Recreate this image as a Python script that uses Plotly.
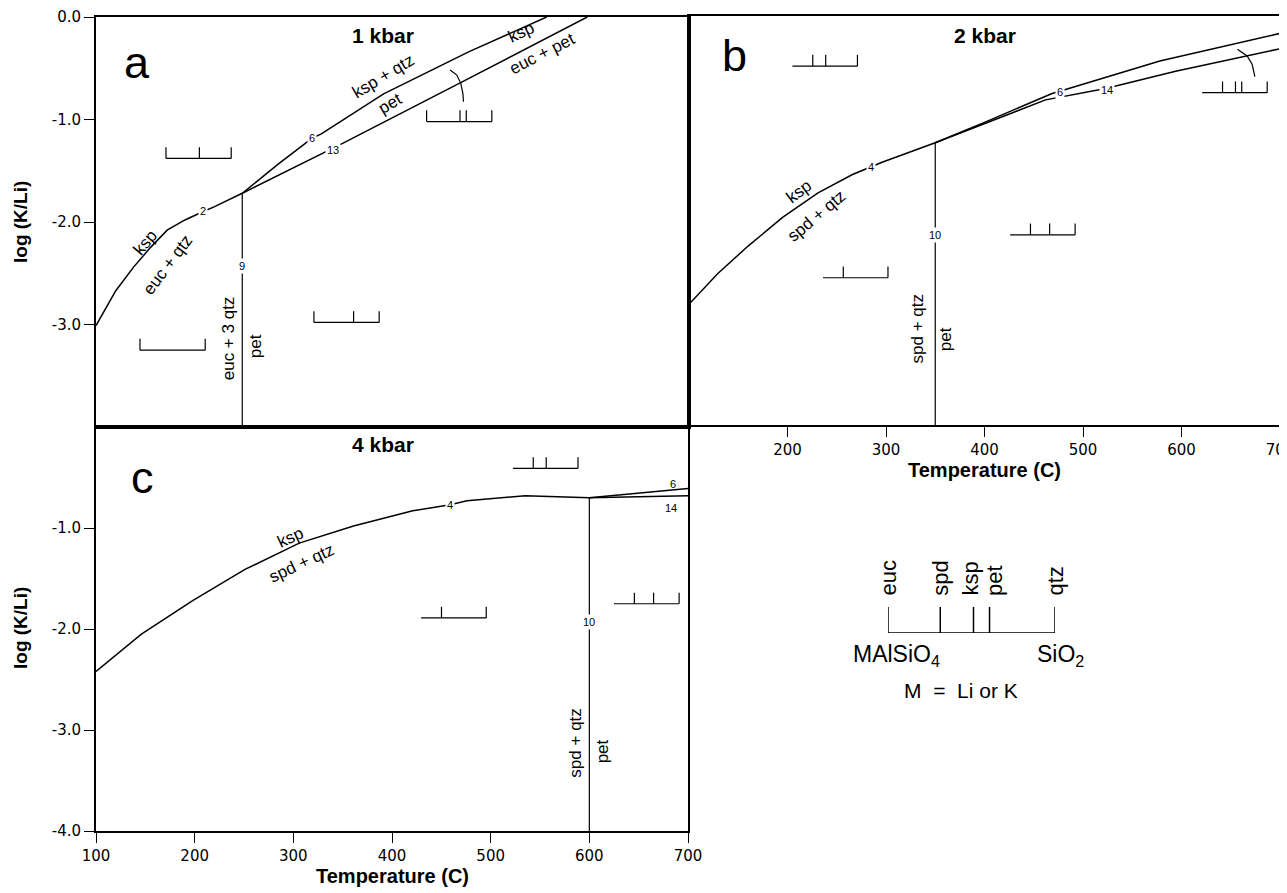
import plotly.graph_objects as go

# ---------------- data ----------------
# Panel a : 1 kbar
a_r2_T = [100, 120, 138, 155, 172, 190, 208, 220, 248]
a_r2_y = [-3.01, -2.67, -2.44, -2.25, -2.08, -1.98, -1.90, -1.85, -1.72]
a_r6_T = [248, 285, 319, 328, 391, 477, 556]
a_r6_y = [-1.72, -1.43, -1.18, -1.14, -0.75, -0.34, 0.0]
a_r13_T = [248, 300, 350, 468, 597]
a_r13_y = [-1.72, -1.47, -1.23, -0.645, 0.0]
a_r9_T = [248, 248]
a_r9_y = [-1.72, -4.0]
a_arc_T = [458.3, 465.1, 469.1, 471.2, 471.8]
a_arc_y = [-0.517, -0.566, -0.647, -0.745, -0.826]

# Panel b : 2 kbar
b_r4_T = [100, 129, 160, 195, 231, 266, 296, 350]
b_r4_y = [-2.82, -2.52, -2.25, -1.97, -1.73, -1.55, -1.43, -1.24]
b_r6_T = [350, 400, 468, 578, 700]
b_r6_y = [-1.24, -1.04, -0.76, -0.44, -0.17]
b_r14_T = [350, 400, 462, 523, 594, 700]
b_r14_y = [-1.24, -1.055, -0.82, -0.71, -0.54, -0.32]
b_r10_T = [350, 350]
b_r10_y = [-1.24, -4.0]
b_arc_T = [656.8, 666.6, 671.7, 674.0, 674.5]
b_arc_y = [-0.326, -0.391, -0.472, -0.554, -0.593]

# Panel c : 4 kbar
c_r4_T = [100, 146, 198, 251, 306, 361, 421, 459, 476, 535, 600]
c_r4_y = [-2.42, -2.05, -1.72, -1.41, -1.15, -0.98, -0.83, -0.77, -0.73, -0.68, -0.70]
c_r6_T = [600, 700]
c_r6_y = [-0.70, -0.61]
c_r14_T = [600, 700]
c_r14_y = [-0.70, -0.68]
c_r10_T = [600, 600]
c_r10_y = [-0.70, -4.0]

# composition bar: phase positions along MAlSiO4 - SiO2
phases = ["euc", "spd", "ksp", "pet", "qtz"]
phase_pos = [0.0, 0.313, 0.512, 0.608, 1.0]
phase_label_shift = [0, 0, -4, 5, 0]   # px, keeps the close labels apart

# assemblage bars: panel, left T, log(K/Li), phases present
bar_panel = ["a", "a", "a", "a", "b", "b", "b", "b", "c", "c", "c"]
bar_T = [170.8, 144.5, 320.5, 434.5, 205, 236, 426, 621, 522.5, 429.5, 625]
bar_y = [-1.38, -3.25, -2.98, -1.02, -0.49, -2.56, -2.14, -0.75, -0.41, -1.89, -1.75]
bar_ph = [["euc", "ksp", "qtz"], ["euc", "qtz"], ["euc", "pet", "qtz"],
          ["euc", "ksp", "pet", "qtz"],
          ["spd", "ksp", "qtz"], ["spd", "qtz"], ["spd", "pet", "qtz"],
          ["spd", "ksp", "pet", "qtz"],
          ["spd", "ksp", "qtz"], ["spd", "qtz"], ["spd", "pet", "qtz"]]
BAR_W = 66.0    # deg C
BAR_H = 0.11    # log units

# field labels: panel, text, T, y, angle
lab_panel = ["a", "a", "a", "a", "a", "a", "a", "a",
             "b", "b", "b", "b",
             "c", "c", "c", "c"]
lab_text = ["ksp", "euc + qtz", "euc + 3 qtz", "pet", "ksp + qtz", "pet", "ksp", "euc + pet",
            "ksp", "spd + qtz", "spd + qtz", "pet",
            "ksp", "spd + qtz", "spd + qtz", "pet"]
lab_T = [150, 172, 234, 261, 390.5, 397.6, 530, 552,
         212, 229, 332, 360,
         297, 308, 586, 613]
lab_y = [-2.20, -2.42, -3.13, -3.21, -0.58, -0.84, -0.15, -0.36,
         -1.72, -1.96, -3.06, -3.16,
         -1.09, -1.35, -3.13, -3.21]
lab_ang = [-50, -53, -90, -90, -31, -31, -25, -27,
           -37, -40, -90, -90,
           -25, -25, -90, -90]

# reaction numbers: panel, text, T, y, on-line (white background)
num_panel = ["a", "a", "a", "a", "b", "b", "b", "b", "c", "c", "c", "c"]
num_text = ["2", "6", "13", "9", "4", "6", "14", "10", "4", "6", "14", "10"]
num_T = [208, 319, 340, 248, 285, 477, 524, 350, 459, 685, 683, 600]
num_y = [-1.89, -1.18, -1.30, -2.43, -1.48, -0.74, -0.72, -2.14, -0.77, -0.56, -0.80, -1.93]
num_gap = [True, True, True, True, True, True, True, True, True, False, False, True]

panel_letter = {"a": ("a", 141.5, -0.44), "b": ("b", 145.7, -0.39), "c": ("c", 147.6, -0.50)}
panel_title = {"a": ("1 kbar", 390, -0.18), "b": ("2 kbar", 400, -0.19), "c": ("4 kbar", 391, -0.17)}

# ---------------- figure ----------------
# page body has an 8 px margin: figure is drawn 8 px in from the window corner
OFF = 8
W, H = 1287 - OFF, 893 - OFF
def fx(p): return (p - OFF) / W
def fy(p): return 1 - (p - OFF) / H

ref = {"a": ("x", "y"), "b": ("x2", "y2"), "c": ("x3", "y3")}
fig = go.Figure()

def add_line(p, T, y, w=1.5):
    xr, yr = ref[p]
    fig.add_trace(go.Scatter(x=T, y=y, mode="lines", line=dict(color="black", width=w),
                             xaxis=xr, yaxis=yr, showlegend=False, hoverinfo="skip"))

add_line("a", a_r2_T, a_r2_y)
add_line("a", a_r6_T, a_r6_y)
add_line("a", a_r13_T, a_r13_y)
add_line("a", a_r9_T, a_r9_y, 1.2)
add_line("a", a_arc_T, a_arc_y, 1.2)
add_line("b", b_r4_T, b_r4_y)
add_line("b", b_r6_T, b_r6_y)
add_line("b", b_r14_T, b_r14_y)
add_line("b", b_r10_T, b_r10_y, 1.2)
add_line("b", b_arc_T, b_arc_y, 1.2)
add_line("c", c_r4_T, c_r4_y)
add_line("c", c_r6_T, c_r6_y)
add_line("c", c_r14_T, c_r14_y)
add_line("c", c_r10_T, c_r10_y, 1.2)

# assemblage bars
for p, T0, y0, ph in zip(bar_panel, bar_T, bar_y, bar_ph):
    xs = [T0, T0 + BAR_W]
    ys = [y0, y0]
    for name in ph:
        t = T0 + BAR_W * phase_pos[phases.index(name)]
        xs += [None, t, t]
        ys += [None, y0, y0 + BAR_H]
    add_line(p, xs, ys, 1.2)

# legend composition diagram (own axes)
lx, ly = [0, 1], [0, 0]
for v in phase_pos:
    lx += [None, v, v]
    ly += [None, 0, 1]
fig.add_trace(go.Scatter(x=lx, y=ly, mode="lines", line=dict(color="black", width=1.5),
                         xaxis="x4", yaxis="y4", showlegend=False, hoverinfo="skip",
                         cliponaxis=False))

ann = []
LAB_FONT = "Liberation Sans, Arial, sans-serif"
C = dict(xanchor="center", yanchor="middle", showarrow=False)
for p, t, T, y, a in zip(lab_panel, lab_text, lab_T, lab_y, lab_ang):
    xr, yr = ref[p]
    ann.append(dict(C, x=T, y=y, xref=xr, yref=yr, text=t, textangle=a,
                    font=dict(family=LAB_FONT, size=17, color="black")))
for p, t, T, y, g in zip(num_panel, num_text, num_T, num_y, num_gap):
    xr, yr = ref[p]
    d = dict(C, x=T, y=y, xref=xr, yref=yr, text=t, borderpad=1,
             font=dict(family=LAB_FONT, size=11, color="black"))
    if g:
        d["bgcolor"] = "white"
    ann.append(d)
for p, (t, T, y) in panel_letter.items():
    xr, yr = ref[p]
    ann.append(dict(C, x=T, y=y, xref=xr, yref=yr, text=t,
                    font=dict(family=LAB_FONT, size=45, color="black")))
for p, (t, T, y) in panel_title.items():
    xr, yr = ref[p]
    ann.append(dict(C, x=T, y=y, xref=xr, yref=yr, text="<b>" + t + "</b>",
                    font=dict(family=LAB_FONT, size=21, color="black")))
for name, v, sh in zip(phases, phase_pos, phase_label_shift):
    ann.append(dict(x=v, y=fy(598), xref="x4", yref="paper", text=name, showarrow=False,
                    textangle=-90, yanchor="bottom", xanchor="center", xshift=sh,
                    font=dict(family=LAB_FONT, size=22, color="black")))
ann.append(dict(C, x=fx(896), y=fy(655), xref="paper", yref="paper", text="MAlSiO<sub>4</sub>",
                font=dict(family=LAB_FONT, size=23, color="black")))
ann.append(dict(C, x=fx(1060), y=fy(655), xref="paper", yref="paper", text="SiO<sub>2</sub>",
                font=dict(family=LAB_FONT, size=23, color="black")))
ann.append(dict(C, x=fx(961), y=fy(690), xref="paper", yref="paper", text="M  =  Li or K",
                font=dict(family=LAB_FONT, size=21, color="black")))
# axis titles
for xc, yc in [(984, 470), (392, 876)]:
    ann.append(dict(C, x=fx(xc), y=fy(yc), xref="paper", yref="paper", text="<b>Temperature (C)</b>",
                    font=dict(family=LAB_FONT, size=20, color="black")))
for yc in [222, 628]:
    ann.append(dict(C, x=fx(20), y=fy(yc), xref="paper", yref="paper", text="<b>log (K/Li)</b>",
                    textangle=-90, font=dict(family=LAB_FONT, size=19, color="black")))

TICK_FONT = dict(family="DejaVu Sans, sans-serif", size=15, color="black")
base_ax = dict(showline=True, linecolor="black", linewidth=1.7, mirror=True,
               showgrid=False, zeroline=False, ticks="outside", tickcolor="black",
               tickwidth=1.3, tickfont=TICK_FONT, automargin=False)

fig.update_layout(
    width=W, height=H, margin=dict(l=0, r=0, t=0, b=0, pad=0, autoexpand=False),
    paper_bgcolor="white", plot_bgcolor="white", showlegend=False,
    xaxis=dict(base_ax, domain=[fx(96), fx(689)], range=[100, 700], showticklabels=False,
               ticks="", anchor="y"),
    yaxis=dict(base_ax, domain=[fy(427), fy(17)], range=[-4, 0], anchor="x",
               tickvals=[0, -1, -2, -3], ticktext=["0.0", "-1.0", "-2.0", "-3.0"], ticklen=10),
    xaxis2=dict(base_ax, domain=[fx(689), fx(1280)], range=[100, 700], anchor="y2",
                tickvals=[200, 300, 400, 500, 600, 700], ticklen=10, ticklabeloverflow="allow"),
    yaxis2=dict(base_ax, domain=[fy(425), fy(16)], range=[-4, 0], anchor="x2",
                showticklabels=False, ticks=""),
    xaxis3=dict(base_ax, domain=[fx(96), fx(688)], range=[100, 700], anchor="y3",
                tickvals=[100, 200, 300, 400, 500, 600, 700], ticklen=10),
    yaxis3=dict(base_ax, domain=[fy(831), fy(427)], range=[-4, 0], anchor="x3",
                tickvals=[-1, -2, -3, -4], ticktext=["-1.0", "-2.0", "-3.0", "-4.0"], ticklen=10),
    xaxis4=dict(domain=[fx(888), fx(1055)], range=[0, 1], visible=False, anchor="y4"),
    yaxis4=dict(domain=[fy(633), fy(607)], range=[0, 1], visible=False, anchor="x4"),
    annotations=ann,
)

fig.write_html("out.html")
